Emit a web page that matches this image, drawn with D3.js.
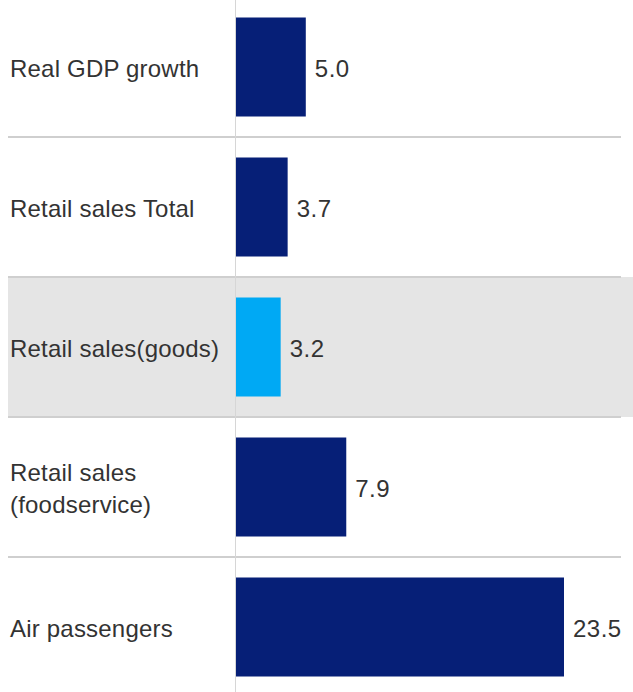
<!DOCTYPE html>
<html>
<head>
<meta charset="utf-8">
<script src="https://cdn.jsdelivr.net/npm/d3@7"></script>
<style>
  html, body { margin: 0; padding: 0; background: #ffffff; }
  svg { display: block; }
</style>
</head>
<body>
<div id="chart"></div>
<script>
// Year-over-year change by indicator
const categories = [
  ["Real GDP growth"],
  ["Retail sales Total"],
  ["Retail sales(goods)"],
  ["Retail sales", "(foodservice)"],
  ["Air passengers"]
];
const values = [5.0, 3.7, 3.2, 7.9, 23.5];
const valueLabels = ["5.0", "3.7", "3.2", "7.9", "23.5"];
const highlighted = [false, false, true, false, false];

const width = 633, height = 692;
const axisX = 235.5;
const barLeft = 236;

const svg = d3.select("#chart").append("svg")
  .attr("width", width)
  .attr("height", height);

const rowKeys = categories.map((c, i) => i);
const y = d3.scaleBand().domain(rowKeys).range([-3, 697]).paddingInner(0);
const x = d3.scaleLinear().domain([0, 23.5]).range([barLeft, 564]);
const barH = 99;
const barOff = (y.bandwidth() - barH) / 2;

// highlighted row background
svg.selectAll("rect.band")
  .data(rowKeys.filter(i => highlighted[i]))
  .join("rect")
  .attr("class", "band")
  .attr("x", 8)
  .attr("y", i => y(i))
  .attr("width", width - 8)
  .attr("height", y.bandwidth())
  .attr("fill", "#e5e5e5");

// row separators
svg.selectAll("line.sep")
  .data(rowKeys.slice(1))
  .join("line")
  .attr("class", "sep")
  .attr("x1", 8)
  .attr("x2", 621)
  .attr("y1", i => y(i))
  .attr("y2", i => y(i))
  .attr("stroke", "#cfcfcf")
  .attr("stroke-width", 2);

// baseline axis
svg.append("line")
  .attr("x1", axisX).attr("x2", axisX)
  .attr("y1", 0).attr("y2", height)
  .attr("stroke", "#d6d6d6")
  .attr("stroke-width", 1);

// bars
svg.selectAll("rect.bar")
  .data(rowKeys)
  .join("rect")
  .attr("class", "bar")
  .attr("x", x(0))
  .attr("y", i => y(i) + barOff)
  .attr("width", i => x(values[i]) - x(0))
  .attr("height", barH)
  .attr("fill", i => highlighted[i] ? "#00a9f4" : "#061f77");

// category labels
const font = "'Liberation Sans', Arial, sans-serif";
const fontSize = 24;
const lineGap = 32;
svg.selectAll("text.cat")
  .data(rowKeys)
  .join("text")
  .attr("class", "cat")
  .attr("font-family", font)
  .attr("font-size", fontSize)
  .attr("letter-spacing", 0.2)
  .attr("fill", "#333333")
  .each(function(i) {
    const lines = categories[i];
    const cy = y(i) + y.bandwidth() / 2;
    const first = cy - (lines.length - 1) * lineGap / 2;
    d3.select(this).selectAll("tspan")
      .data(lines)
      .join("tspan")
      .attr("x", 10)
      .attr("y", (d, k) => first + k * lineGap)
      .attr("dy", "0.42em")
      .text(d => d);
  });

// value labels
svg.selectAll("text.val")
  .data(rowKeys)
  .join("text")
  .attr("class", "val")
  .attr("font-family", font)
  .attr("font-size", fontSize)
  .attr("letter-spacing", 0.5)
  .attr("fill", "#333333")
  .attr("x", i => x(values[i]) + 9)
  .attr("y", i => y(i) + y.bandwidth() / 2)
  .attr("dy", "0.42em")
  .text(i => valueLabels[i]);
</script>
</body>
</html>
